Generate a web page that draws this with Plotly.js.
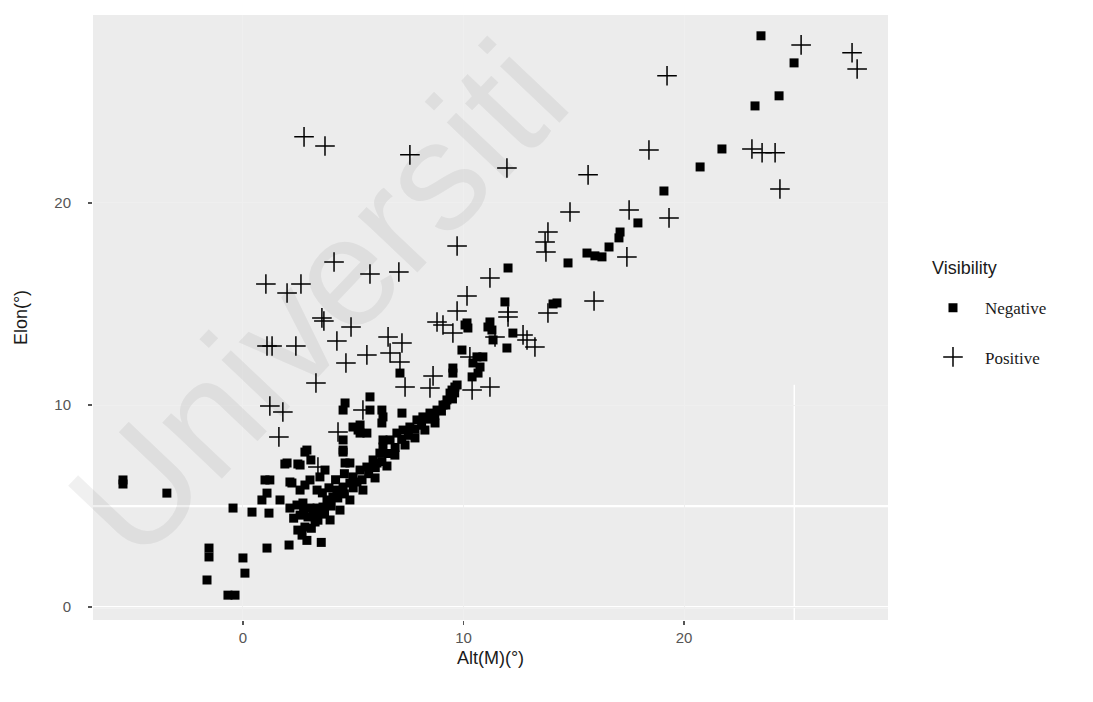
<!DOCTYPE html>
<html>
<head>
<meta charset="utf-8">
<script src="https://cdn.plot.ly/plotly-3.0.1.min.js"></script>
<style>
  html, body { margin: 0; padding: 0; background: #ffffff; }
  #chart { width: 1093px; height: 702px; }
</style>
</head>
<body>
<div id="chart"></div>
<script>
// Moon altitude vs. elongation, split by crescent visibility
const negAlt = [
  -5.44, -5.44, -3.45,
  -1.63, -1.54, -1.54, -0.68, -0.36, 0.00, 0.09, 1.09, 2.09,
  -0.45, 0.41, 1.00, 1.22, 1.09, 1.18, 0.86, 1.68, 2.13, 1.90, 2.49, 2.81, 3.08, 3.72,
  4.54, 4.63, 4.85, 2.13, 2.45, 2.59, 2.49, 2.68, 2.81, 2.95, 3.17, 3.27, 3.40, 3.63,
  3.81, 4.08, 4.26, 4.54, 4.85, 5.17, 2.59, 2.81, 3.04, 3.36, 3.49, 3.95, 2.72, 3.04,
  3.36, 2.22,
  4.99, 5.31, 5.62, 5.90, 6.21, 6.35, 6.67, 6.98, 7.26, 7.57, 7.89, 8.16, 8.48, 8.80,
  9.07, 9.25, 9.39, 5.31, 4.99, 4.54, 5.31, 6.35, 4.54, 4.54, 5.22, 5.62, 5.76, 5.76,
  6.30, 6.30, 7.21, 7.12, 6.35, 4.63, 6.08, 2.90, 2.00, 2.59,
  3.95, 4.40, 4.85, 5.44, 5.99, 6.53, 6.89, 7.35, 7.80, 8.25, 8.71,
  2.90, 3.10, 3.40, 3.70, 4.00, 4.30, 4.60, 5.00, 5.40, 5.70, 6.00, 6.30, 6.60, 6.90,
  7.20, 7.50, 7.80, 8.10, 8.40, 8.70, 9.00, 9.20, 9.50, 9.60,
  2.30, 2.75, 3.60, 3.90, 4.20, 4.60, 3.55,
  9.52, 9.61, 9.48, 9.71, 9.93, 10.07, 10.20, 10.16, 10.43, 10.61, 10.75, 10.66, 10.39,
  11.11, 11.20, 11.29, 11.34, 11.97, 12.24, 10.88, 9.52, 11.88,
  12.02, 14.06, 14.24, 14.74, 15.60, 15.96, 16.28, 16.60, 17.05, 17.10, 17.91, 19.09,
  20.73, 21.72, 23.22, 24.31, 24.99, 23.49
];
const negElon = [
  6.29, 6.09, 5.64,
  1.34, 2.92, 2.48, 0.59, 0.59, 2.43, 1.68, 2.92, 3.07,
  4.90, 4.70, 6.29, 6.29, 5.64, 4.65, 5.30, 5.30, 6.19, 7.08, 7.08, 7.67, 7.28, 6.78,
  7.67, 7.13, 7.13, 4.90, 5.05, 4.55, 3.81, 3.56, 3.96, 4.46, 4.55, 4.21, 4.65, 4.95,
  5.30, 5.45, 5.79, 5.94, 6.14, 6.19, 5.79, 6.04, 6.29, 5.79, 6.44, 5.15, 5.15, 4.90,
  4.90, 6.14,
  6.44, 6.78, 6.93, 7.28, 7.62, 7.92, 8.27, 8.61, 8.76, 8.91, 9.26, 9.41, 9.60, 9.75,
  10.00, 10.25, 10.59, 9.01, 8.91, 8.27, 8.61, 8.27, 7.77, 9.75, 8.76, 8.61, 10.40, 9.75,
  9.75, 9.11, 9.60, 11.58, 9.41, 10.10, 7.13, 7.77, 7.13, 7.03,
  4.31, 4.80, 5.30, 5.79, 6.39, 6.98, 7.52, 8.02, 8.37, 8.76, 9.11,
  3.30, 3.90, 4.30, 4.60, 5.00, 5.40, 5.60, 5.90, 6.30, 6.60, 6.90, 7.20, 7.60, 7.90,
  8.30, 8.50, 8.80, 9.00, 9.30, 9.50, 9.70, 10.00, 10.30, 10.60,
  4.40, 4.75, 5.65, 5.90, 6.30, 6.60, 3.20,
  11.58, 10.89, 10.74, 10.99, 12.72, 13.96, 13.81, 14.06, 12.08, 12.38, 11.88, 11.58, 11.39,
  13.86, 14.11, 13.71, 13.22, 12.82, 13.56, 12.38, 11.83, 15.10,
  16.78, 15.00, 15.05, 17.03, 17.52, 17.38, 17.33, 17.82, 18.27, 18.56, 19.01, 20.59,
  21.78, 22.67, 24.80, 25.30, 26.93, 28.27
];

const posAlt = [
  2.77, 3.72, 7.57, 9.71, 4.13, 5.76, 7.07, 1.04, 2.00, 2.63, 11.20, 10.16, 9.71, 8.80,
  3.58, 3.67, 4.90, 25.31, 27.62, 27.85, 19.23, 18.41, 11.97, 15.65, 23.08, 23.54, 24.13,
  24.35, 14.83, 17.51, 19.32, 13.83, 13.70, 13.74, 17.41, 15.92, 13.83, 1.09, 1.32, 2.40,
  4.26, 4.67, 5.62, 3.31, 6.58, 7.21, 6.67, 7.12, 7.35, 8.62, 8.48, 10.39, 11.20, 9.52,
  10.29, 9.07, 11.43, 12.02, 12.02, 12.70, 12.88, 13.24, 1.22, 1.81, 1.63, 4.31, 5.44, 3.40
];
const posElon = [
  23.27, 22.82, 22.38, 17.87, 17.08, 16.48, 16.58, 15.99, 15.54, 15.99, 16.29, 15.40, 14.65, 14.11,
  14.31, 14.16, 13.86, 27.82, 27.43, 26.63, 26.29, 22.62, 21.73, 21.39, 22.67, 22.48, 22.48,
  20.69, 19.55, 19.65, 19.26, 18.56, 18.07, 17.57, 17.33, 15.15, 14.55, 12.92, 12.92, 12.92,
  13.17, 12.08, 12.48, 11.09, 13.37, 13.07, 12.57, 12.13, 10.89, 11.44, 10.84, 10.74, 10.89, 13.56,
  12.38, 13.96, 13.37, 14.60, 14.36, 13.47, 13.22, 12.87, 9.95, 9.65, 8.42, 8.66, 9.75, 6.93
];

const xTicks = [0, 10, 20];
const yTicks = [0, 10, 20];
const groupNames = ['Negative', 'Positive'];
const legendHeading = 'Visibility';

const traces = [
  {
    type: 'scatter', mode: 'markers', name: groupNames[0], legendgroup: 'neg',
    x: negAlt, y: negElon,
    marker: { symbol: 'square', size: 9, color: '#000000' }
  },
  {
    type: 'scatter', mode: 'markers', name: groupNames[1], legendgroup: 'pos',
    x: posAlt, y: posElon,
    marker: { symbol: 'cross-thin', size: 14, color: '#000000',
              line: { color: '#000000', width: 1.5 } }
  }
];

const gridWhite = { color: '#ffffff', width: 2.2 };

const layout = {
  width: 1093, height: 702,
  margin: { l: 93, r: 205, t: 15, b: 82 },
  paper_bgcolor: '#ffffff',
  plot_bgcolor: '#ececec',
  showlegend: true,
  font: { family: 'Liberation Sans, Arial, sans-serif', color: '#1a1a1a' },
  xaxis: {
    range: [-6.8, 29.25], tickvals: xTicks, ticktext: xTicks.map(String),
    ticks: 'outside', ticklen: 4, tickwidth: 1.2, tickcolor: '#555555',
    tickfont: { size: 15, color: '#555555' },
    showgrid: true, gridcolor: '#efefef', gridwidth: 1,
    zeroline: false, showline: false,
    title: { text: 'Alt(M)(°)', font: { size: 18, color: '#1a1a1a' }, standoff: 6 }
  },
  yaxis: {
    range: [-0.64, 29.3], tickvals: yTicks, ticktext: yTicks.map(String),
    ticks: 'outside', ticklen: 4, tickwidth: 1.2, tickcolor: '#555555',
    tickfont: { size: 15, color: '#555555' }, ticklabelstandoff: 14,
    showgrid: true, gridcolor: '#efefef', gridwidth: 1,
    zeroline: false, showline: false,
    title: { text: 'Elon(°)', font: { size: 18, color: '#1a1a1a' }, standoff: 22 }
  },
  shapes: [
    { type: 'line', xref: 'paper', x0: 0, x1: 1, yref: 'y', y0: 0, y1: 0, line: gridWhite, layer: 'below' },
    { type: 'line', xref: 'paper', x0: 0, x1: 1, yref: 'y', y0: 5, y1: 5, line: gridWhite, layer: 'below' },
    { type: 'line', xref: 'x', x0: 25, x1: 25, yref: 'y', y0: -0.64, y1: 11, line: { color: '#ffffff', width: 1.5 }, layer: 'below' }
  ],
  legend: {
    x: 1.0415, y: 0.545, xanchor: 'left', yanchor: 'top',
    bgcolor: 'rgba(0,0,0,0)', borderwidth: 0,
    tracegroupgap: 24, itemwidth: 54,
    font: { family: 'Liberation Serif, Times New Roman, serif', size: 17, color: '#1a1a1a' }
  },
  annotations: [
    {
      text: legendHeading, xref: 'paper', yref: 'paper',
      x: 1.0528, y: 0.582, xanchor: 'left', yanchor: 'middle', showarrow: false,
      font: { family: 'Liberation Sans, Arial, sans-serif', size: 18, color: '#1a1a1a' }
    },
    {
      text: 'Universiti', xref: 'paper', yref: 'paper',
      x: 0.283, y: 0.53, xanchor: 'center', yanchor: 'middle',
      textangle: -46.5, showarrow: false,
      font: { family: 'Liberation Sans, Arial, sans-serif', size: 155, color: 'rgba(0,0,0,0.06)' }
    }
  ]
};

Plotly.newPlot('chart', traces, layout, { displayModeBar: false, staticPlot: true });
</script>
</body>
</html>
